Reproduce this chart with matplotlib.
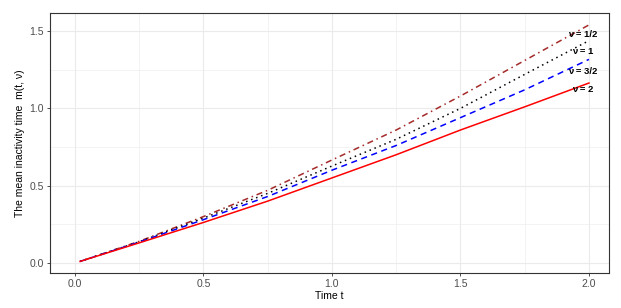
import numpy as np
from matplotlib import pyplot as plt

plt.rcParams["font.family"] = ["Liberation Sans", "DejaVu Sans"]

# data
t = [0.02, 0.25, 0.5, 0.75, 1.0, 1.25, 1.5, 1.75, 2.0]
m_half = [0.01, 0.14, 0.30, 0.47, 0.666, 0.86, 1.08, 1.31, 1.54]
m_one = [0.01, 0.137, 0.29, 0.45, 0.627, 0.80, 1.00, 1.22, 1.438]
m_three_half = [0.01, 0.135, 0.28, 0.43, 0.60, 0.76, 0.94, 1.12, 1.317]
m_two = [0.01, 0.13, 0.262, 0.40, 0.55, 0.70, 0.86, 1.01, 1.164]

labels = ["ν = 1/2", "ν = 1", "ν = 3/2", "ν = 2"]
label_y = [1.48, 1.37, 1.24, 1.12]

fig = plt.figure(figsize=(6.21, 3.08), dpi=100)
ax = fig.add_axes([50 / 621, 35 / 308, 559 / 621, 260 / 308])

ax.plot(t, m_half, color="#A52A2A", lw=1.1, dashes=(1, 2.5, 4, 2.5))
ax.plot(t, m_one, color="black", lw=1.1, dashes=(1, 2.5))
ax.plot(t, m_three_half, color="blue", lw=1.1, dashes=(4, 3))
ax.plot(t, m_two, color="red", lw=1.1)

for lab, yy in zip(labels, label_y):
    ax.text(1.975, yy, lab, ha="center", va="center", fontsize=6.8, fontweight="bold")

ax.set_xlim(-0.097, 2.078)
ax.set_ylim(-0.065, 1.617)
ax.set_xticks([0.0, 0.5, 1.0, 1.5, 2.0])
ax.set_yticks([0.0, 0.5, 1.0, 1.5])
ax.set_xticks([0.25, 0.75, 1.25, 1.75], minor=True)
ax.set_yticks([0.25, 0.75, 1.25], minor=True)
ax.tick_params(which="major", labelsize=7.5, labelcolor="#4d4d4d", color="#333333",
               length=2.5, width=0.6, pad=2)
ax.tick_params(which="minor", length=0)
ax.grid(which="major", color="#ebebeb", lw=0.8)
ax.grid(which="minor", color="#ebebeb", lw=0.4)
ax.set_axisbelow(True)
for s in ax.spines.values():
    s.set_color("#333333")
    s.set_linewidth(0.8)

ax.set_xlabel("Time t", fontsize=7.5, labelpad=1)
ax.set_ylabel("The mean inactivity time  m(t, ν)", fontsize=7.5, labelpad=3)

fig.savefig("out.png", dpi=100)
